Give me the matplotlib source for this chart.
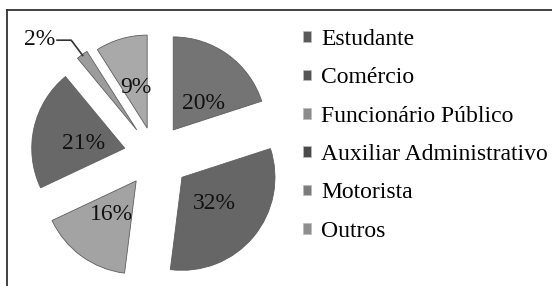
import matplotlib
matplotlib.use("Agg")
import matplotlib.pyplot as plt
import numpy as np
from matplotlib.lines import Line2D
from matplotlib.patches import Patch

categories = ["Estudante", "Comércio", "Funcionário Público",
              "Auxiliar Administrativo", "Motorista", "Outros"]
values = [20, 32, 16, 21, 2, 9]
colors = ["#747474", "#666666", "#a3a3a3", "#686868", "#9c9c9c", "#a9a9a9"]
legend_colors = ["#5a5a5a", "#555555", "#8c8c8c", "#4a4a4a", "#7c7c7c", "#8e8e8e"]
explode = [31, 35, 32, 31, 31, 28]

plt.rcParams['font.family'] = ['Liberation Serif', 'DejaVu Serif']

W, H = 552, 286
fig = plt.figure(figsize=(W / 100, H / 100), dpi=100)
ax = fig.add_axes([0, 0, 1, 1])

R = 93
cx, cy = 155, H - 155
FS = 17


def pct(p):
    return '' if p < 5 else f'{p:.0f}%'


wedges, texts, autotexts = ax.pie(
    values, radius=R, center=(cx, cy), explode=explode, colors=colors,
    startangle=90, counterclock=False, autopct=pct, pctdistance=0.45,
    wedgeprops=dict(edgecolor="#5e5e5e", linewidth=0.6),
    textprops=dict(fontsize=FS, color="#111111"))

# small placement nudges to mimic the original label layout
nudges = {0: (6, -7), 3: (0, -4)}
for i, (dx, dy) in nudges.items():
    x, y = autotexts[i].get_position()
    autotexts[i].set_position((x + dx, y + dy))

ax.set_xlim(0, W)
ax.set_ylim(0, H)
ax.set_aspect('equal')
ax.axis('off')

# outside label for the small slice
small = int(np.argmin(values))
w = wedges[small]
thm = np.deg2rad((w.theta1 + w.theta2) / 2)
tip = (w.center[0] + 0.98 * R * np.cos(thm), w.center[1] + 0.98 * R * np.sin(thm))
elbow = (tip[0] - 12, tip[1] + 16)
end = (elbow[0] - 15, elbow[1])
ax.plot([tip[0], elbow[0], end[0]], [tip[1], elbow[1], end[1]],
        color="#333333", lw=1.2, solid_capstyle='butt')
ax.text(end[0] - 1, end[1] + 1, f'{values[small]}%', ha='right', va='center',
        fontsize=FS, color="#111111")

# legend
handles = [Patch(facecolor=c, edgecolor='#bbbbbb', linewidth=0.5) for c in legend_colors]
fig.legend(handles, categories, loc='upper left',
           bbox_to_anchor=(303 / W, 1 - 29 / H), frameon=False,
           fontsize=FS, handlelength=0.32, handleheight=0.32,
           handletextpad=0.45, labelspacing=0.735, borderpad=0, borderaxespad=0)

# partial frame (top and left)
fig.add_artist(Line2D([7 / W, 1], [1 - 10 / H, 1 - 10 / H], transform=fig.transFigure,
                      color="#333333", lw=1.3))
fig.add_artist(Line2D([7 / W, 7 / W], [0, 1 - 10 / H], transform=fig.transFigure,
                      color="#333333", lw=1.3))

fig.savefig("out.png", dpi=100)
